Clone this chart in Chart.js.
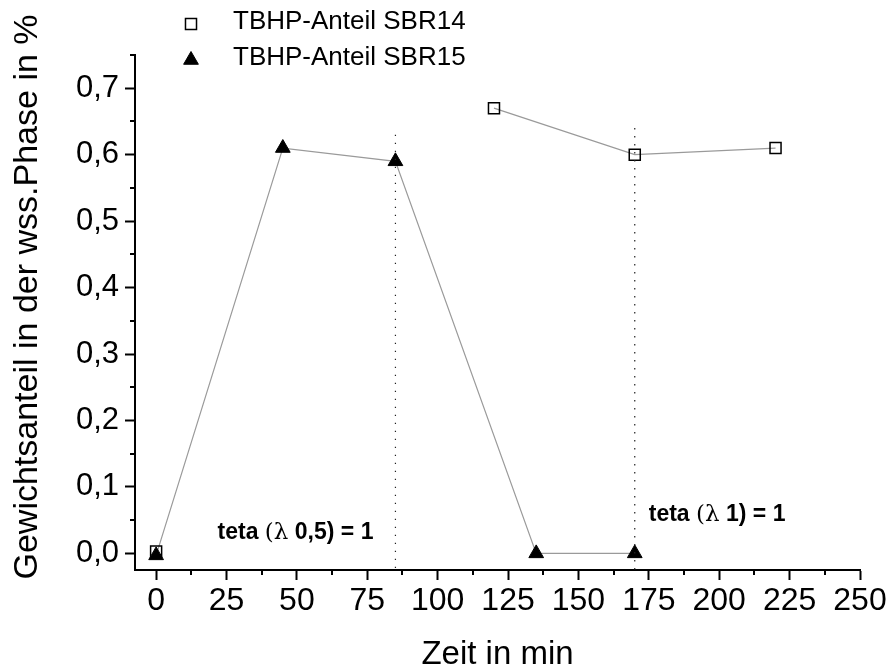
<!DOCTYPE html>
<html>
<head>
<meta charset="utf-8">
<script src="https://cdn.jsdelivr.net/npm/chart.js@4/dist/chart.umd.min.js"></script>
<style>
  html, body { margin: 0; padding: 0; background: #fff; }
  #wrap { width: 892px; height: 671px; }
</style>
</head>
<body>
<div id="wrap"><canvas id="chart" width="892" height="671"></canvas></div>
<script>
// Series: TBHP content of the aqueous phase over time
const sbr14Label = 'TBHP-Anteil SBR14';
const sbr15Label = 'TBHP-Anteil SBR15';
const sbr14Times  = [0, 120, 170, 220];
const sbr14Values = [0.003, 0.67, 0.60, 0.61];
const sbr15Times  = [0, 45, 85, 135, 170];
const sbr15Values = [-0.003, 0.61, 0.59, 0, 0];

// theta = 1 marker lines (time, upper end of the dotted line) and their notes
const thetaTimes = [85, 170];
const thetaTops  = [0.63, 0.64];
const thetaNotes = [
  ['teta ', '(\u03bb', ' 0,5) = 1'],
  ['teta ', '(\u03bb', ' 1) = 1']
];

// Axes
const xTicks = [0, 25, 50, 75, 100, 125, 150, 175, 200, 225, 250];
const yTicks = [0, 0.1, 0.2, 0.3, 0.4, 0.5, 0.6, 0.7];
const xMin = -7.5, xMax = 250;
const yMin = -0.025, yMax = 0.75;
const xTitle = 'Zeit in min';
const yTitle = 'Gewichtsanteil in der wss.Phase in %';

const FONT = "'Liberation Sans', Arial, sans-serif";
const LINE_GRAY = '#9a9a9a';

const pts = (xs, ys) => xs.map((x, i) => ({ x, y: ys[i] }));

const sbr14Style = { pointStyle: 'rect', radius: 7.8, borderWidth: 1.5, fill: 'rgba(0,0,0,0)', stroke: '#000' };
const sbr15Style = { pointStyle: 'triangle', radius: 8.5, borderWidth: 1, fill: '#000', stroke: '#000' };

// Minor ticks halfway between the labelled ones, drawn outward like the major ticks
const minorTicks = {
  id: 'minorTicks',
  afterDraw(chart) {
    const { ctx, scales: { x, y } } = chart;
    ctx.save();
    ctx.strokeStyle = '#000';
    ctx.lineWidth = 2;
    const halves = (ticks, max) => {
      const step = ticks[1] - ticks[0];
      return ticks.map(t => t + step / 2).filter(v => v <= max + 1e-9);
    };
    halves(xTicks, xMax).forEach(v => {
      const px = Math.round(x.getPixelForValue(v));
      ctx.beginPath();
      ctx.moveTo(px, y.bottom);
      ctx.lineTo(px, y.bottom + 5);
      ctx.stroke();
    });
    halves(yTicks, yMax).forEach(v => {
      const py = Math.round(y.getPixelForValue(v));
      ctx.beginPath();
      ctx.moveTo(x.left, py);
      ctx.lineTo(x.left - 5, py);
      ctx.stroke();
    });
    ctx.restore();
  }
};

// Vertical axis title, slightly above the middle of the axis
const yAxisTitle = {
  id: 'yAxisTitle',
  afterDraw(chart) {
    const { ctx } = chart;
    ctx.save();
    ctx.translate(28, 297);
    ctx.rotate(-Math.PI / 2);
    ctx.font = `34px ${FONT}`;
    ctx.textAlign = 'center';
    ctx.textBaseline = 'middle';
    ctx.fillStyle = '#000';
    ctx.fillText(yTitle, 0, 0);
    ctx.restore();
  }
};

// Legend in the top-left corner
const cornerLegend = {
  id: 'cornerLegend',
  afterDraw(chart) {
    const { ctx } = chart;
    const rows = [[sbr14Label, sbr14Style], [sbr15Label, sbr15Style]];
    ctx.save();
    ctx.font = `26px ${FONT}`;
    ctx.textBaseline = 'middle';
    ctx.fillStyle = '#000';
    rows.forEach(([label, st], i) => {
      const cy = 22 + i * 36;
      ctx.save();
      ctx.fillStyle = st.fill;
      ctx.strokeStyle = st.stroke;
      ctx.lineWidth = st.borderWidth;
      Chart.helpers.drawPoint(ctx, { pointStyle: st.pointStyle, radius: st.radius, rotation: 0, borderWidth: st.borderWidth }, 191, cy + 2);
      ctx.restore();
      ctx.fillText(label, 233, cy);
    });
    ctx.restore();
  }
};

// Notes next to the theta lines
const thetaText = {
  id: 'thetaText',
  afterDatasetsDraw(chart) {
    const { ctx, scales: { x, y } } = chart;
    const place = [
      { align: 'right', dx: -22, yv: 0.031 },
      { align: 'left',  dx: 14,  yv: 0.058 }
    ];
    ctx.save();
    ctx.textBaseline = 'middle';
    ctx.fillStyle = '#000';
    thetaNotes.forEach((parts, i) => {
      const fonts = [`bold 23px ${FONT}`, `23px 'DejaVu Serif', serif`, `bold 23px ${FONT}`];
      const widths = parts.map((p, k) => { ctx.font = fonts[k]; return ctx.measureText(p).width; });
      const total = widths.reduce((a, b) => a + b, 0);
      const ax = x.getPixelForValue(thetaTimes[i]) + place[i].dx;
      let cx = place[i].align === 'right' ? ax - total : ax;
      const cy = y.getPixelForValue(place[i].yv);
      parts.forEach((p, k) => {
        ctx.font = fonts[k];
        ctx.fillText(p, cx, cy);
        cx += widths[k];
      });
    });
    ctx.restore();
  }
};

const thetaDatasets = thetaTimes.map((t, i) => ({
  label: 'theta' + i,
  data: [{ x: t, y: thetaTops[i] }, { x: t, y: yMin }],
  borderColor: '#222',
  borderWidth: 1.2,
  borderDash: [1.3, 6.7],
  pointRadius: 0,
  fill: false
}));

const axisCommon = {
  border: { display: true, color: '#000', width: 2 },
  grid: { display: true, drawOnChartArea: false, drawTicks: true, tickLength: 10, tickWidth: 2, tickColor: '#000' }
};

new Chart(document.getElementById('chart'), {
  type: 'line',
  data: {
    datasets: [
      ...thetaDatasets,
      {
        label: sbr14Label,
        data: pts(sbr14Times, sbr14Values),
        borderColor: LINE_GRAY,
        borderWidth: 1.2,
        spanGaps: 60,
        pointStyle: sbr14Style.pointStyle,
        pointRadius: sbr14Style.radius,
        pointBorderWidth: sbr14Style.borderWidth,
        pointBorderColor: sbr14Style.stroke,
        pointBackgroundColor: sbr14Style.fill,
        fill: false
      },
      {
        label: sbr15Label,
        data: pts(sbr15Times, sbr15Values),
        borderColor: LINE_GRAY,
        borderWidth: 1.2,
        pointStyle: sbr15Style.pointStyle,
        pointRadius: sbr15Style.radius,
        pointBorderWidth: sbr15Style.borderWidth,
        pointBorderColor: sbr15Style.stroke,
        pointBackgroundColor: sbr15Style.fill,
        fill: false
      }
    ]
  },
  options: {
    responsive: false,
    animation: false,
    layout: { padding: { top: 55, right: 32, left: 0, bottom: 0 } },
    plugins: { legend: { display: false }, tooltip: { enabled: false } },
    scales: {
      x: {
        ...axisCommon,
        type: 'linear',
        min: xMin,
        max: xMax,
        afterBuildTicks: s => { s.ticks = xTicks.map(v => ({ value: v })); },
        afterFit: s => { s.height = 101; },
        ticks: {
          color: '#000',
          font: { family: FONT, size: 32 },
          padding: 2,
          maxRotation: 0,
          autoSkip: false,
          callback: v => String(v)
        },
        title: {
          display: true,
          text: xTitle,
          color: '#000',
          font: { family: FONT, size: 33, lineHeight: 1 },
          padding: { top: 0, bottom: 0 }
        }
      },
      y: {
        ...axisCommon,
        type: 'linear',
        min: yMin,
        max: yMax,
        afterBuildTicks: s => { s.ticks = yTicks.map(v => ({ value: v })); },
        afterFit: s => { s.width = 135; },
        ticks: {
          color: '#000',
          font: { family: FONT, size: 31 },
          padding: 6,
          autoSkip: false,
          callback: v => v.toFixed(1).replace('.', ',')
        },
        title: { display: false }
      }
    }
  },
  plugins: [minorTicks, yAxisTitle, cornerLegend, thetaText]
});
</script>
</body>
</html>
